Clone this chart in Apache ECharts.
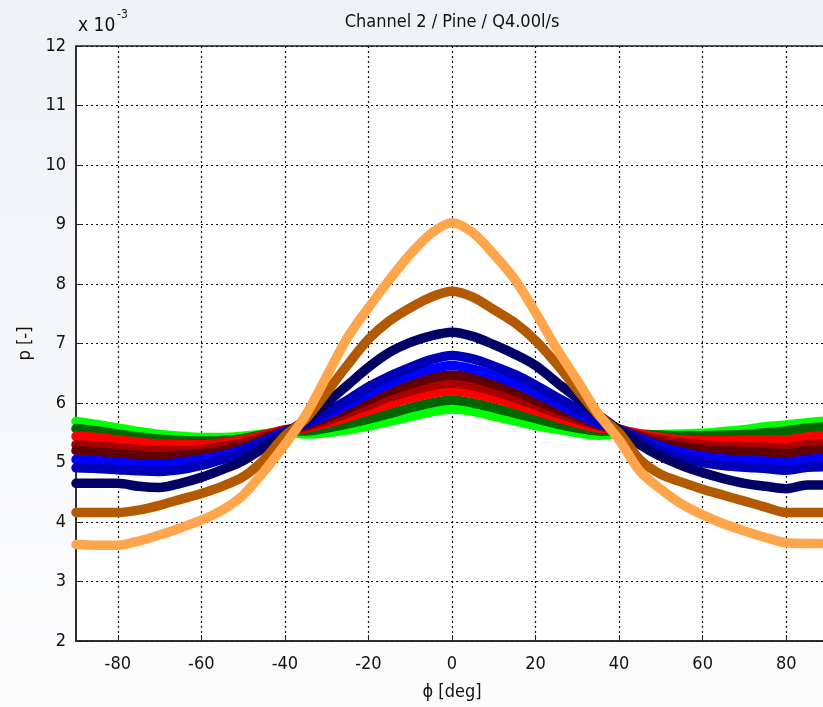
<!DOCTYPE html>
<html>
<head>
<meta charset="utf-8">
<script src="https://cdn.jsdelivr.net/npm/echarts@6/dist/echarts.min.js"></script>
<style>html,body{margin:0;padding:0;background:#fff}#c{width:823px;height:707px}</style>
</head>
<body>
<div id="c"></div>
<script>
// phi [deg]
const phi = [-90,-85,-80,-75,-70,-65,-60,-55,-50,-45,-40,-35,-30,-25,-20,-15,-10,-5,0,5,10,15,20,25,30,35,40,45,50,55,60,65,70,75,80,85,90];
// p values in units of 1e-3
const pLightGreen = [5.69,5.64,5.58,5.52,5.47,5.44,5.42,5.42,5.44,5.48,5.51,5.48,5.50,5.55,5.61,5.69,5.77,5.85,5.90,5.86,5.78,5.70,5.62,5.56,5.50,5.46,5.48,5.46,5.47,5.48,5.49,5.52,5.55,5.60,5.63,5.67,5.70];
const pDarkGreen  = [5.57,5.53,5.48,5.43,5.39,5.37,5.36,5.37,5.40,5.47,5.53,5.53,5.58,5.65,5.73,5.82,5.92,6.00,6.05,6.00,5.92,5.83,5.74,5.65,5.58,5.53,5.52,5.48,5.46,5.45,5.45,5.46,5.47,5.50,5.53,5.58,5.60];
const pRed        = [5.44,5.42,5.38,5.34,5.31,5.30,5.30,5.33,5.38,5.46,5.55,5.58,5.66,5.76,5.87,5.98,6.08,6.16,6.20,6.16,6.08,5.98,5.87,5.76,5.66,5.58,5.55,5.48,5.42,5.38,5.37,5.37,5.38,5.38,5.38,5.43,5.46];
const pDarkRed    = [5.30,5.28,5.25,5.22,5.20,5.20,5.22,5.27,5.33,5.43,5.54,5.60,5.70,5.83,5.96,6.10,6.20,6.29,6.33,6.29,6.20,6.09,5.96,5.83,5.72,5.62,5.56,5.45,5.38,5.33,5.30,5.28,5.27,5.26,5.25,5.30,5.32];
const pMaroon     = [5.20,5.18,5.15,5.12,5.10,5.12,5.15,5.20,5.28,5.40,5.53,5.63,5.75,5.90,6.05,6.20,6.32,6.42,6.47,6.42,6.32,6.20,6.05,5.90,5.77,5.64,5.56,5.43,5.33,5.27,5.22,5.20,5.18,5.17,5.15,5.20,5.22];
const pBlue       = [5.05,5.03,5.00,4.98,4.97,5.00,5.05,5.12,5.22,5.36,5.52,5.65,5.80,5.97,6.15,6.32,6.46,6.57,6.63,6.57,6.46,6.33,6.17,6.00,5.82,5.66,5.55,5.40,5.27,5.17,5.10,5.06,5.04,5.02,5.00,5.05,5.07];
const pMidBlue    = [4.91,4.90,4.88,4.86,4.85,4.88,4.95,5.05,5.17,5.33,5.50,5.66,5.85,6.05,6.27,6.45,6.60,6.73,6.80,6.74,6.62,6.48,6.30,6.10,5.90,5.70,5.55,5.37,5.20,5.08,5.00,4.95,4.92,4.90,4.87,4.92,4.93];
const pNavy       = [4.65,4.65,4.65,4.60,4.58,4.65,4.75,4.88,5.03,5.25,5.48,5.72,6.00,6.30,6.60,6.85,7.02,7.13,7.19,7.12,6.98,6.82,6.63,6.35,6.08,5.80,5.55,5.30,5.10,4.95,4.83,4.73,4.65,4.60,4.56,4.62,4.62];
const pBrown      = [4.16,4.16,4.16,4.20,4.28,4.38,4.48,4.60,4.76,5.05,5.45,5.73,6.18,6.64,7.07,7.38,7.60,7.78,7.88,7.78,7.57,7.35,7.05,6.66,6.22,5.80,5.50,5.05,4.80,4.67,4.55,4.45,4.35,4.25,4.16,4.16,4.16];
const pOrange     = [3.62,3.61,3.61,3.68,3.78,3.90,4.03,4.20,4.45,4.85,5.30,5.80,6.45,7.10,7.60,8.07,8.50,8.85,9.03,8.86,8.50,8.08,7.52,6.92,6.38,5.82,5.38,4.85,4.55,4.30,4.12,3.97,3.85,3.74,3.65,3.64,3.64];

const xTicks = [-80,-60,-40,-20,0,20,40,60,80];
const yTicks = [2,3,4,5,6,7,8,9,10,11,12];

const seriesDefs = [
  ['light green', pLightGreen, '#00ff00'],
  ['dark green', pDarkGreen, '#006600'],
  ['red', pRed, '#ff0000'],
  ['dark red', pDarkRed, '#a80000'],
  ['maroon', pMaroon, '#600000'],
  ['blue', pBlue, '#0000ff'],
  ['mid blue', pMidBlue, '#0000b8'],
  ['navy', pNavy, '#000066'],
  ['brown', pBrown, '#b35900'],
  ['orange', pOrange, '#ffa64d']
];

const FONT = '"Liberation Sans Narrow", "DejaVu Sans Condensed", "Liberation Sans", sans-serif';
const chart = echarts.init(document.getElementById('c'), null, {renderer: 'canvas'});
chart.setOption({
  animation: false,
  backgroundColor: {type: 'linear', x: 0, y: 0, x2: 0, y2: 1, colorStops: [{offset: 0, color: '#eef1f5'}, {offset: 1, color: '#fcfcfd'}]},
  title: {
    text: 'Channel 2 / Pine / Q4.00l/s', left: 447, top: 8, textAlign: 'center',
    textStyle: {fontFamily: FONT, fontSize: 18, fontWeight: 'normal', color: '#111'}
  },
  graphic: [
    {type: 'text', left: 78, top: 17, style: {text: 'x 10', font: '19px ' + FONT, fill: '#111'}},
    {type: 'text', left: 117, top: 9, style: {text: '-3', font: '12px ' + FONT, fill: '#111'}}
  ],
  grid: {left: 76, top: 46, width: 752, bottom: 66, outerBoundsMode: 'none', containLabel: false,
         show: true, backgroundColor: '#ffffff', borderColor: '#222', borderWidth: 1.5},
  xAxis: {
    type: 'value', min: -90, max: 90,
    name: 'ϕ [deg]', nameLocation: 'middle', nameGap: 42,
    nameTextStyle: {fontFamily: FONT, fontSize: 18, color: '#111'},
    axisLine: {show: true, onZero: false, lineStyle: {color: '#222', width: 1.5}},
    axisTick: {show: true, inside: true, length: 6, customValues: xTicks, lineStyle: {color: '#222'}},
    axisLabel: {customValues: xTicks, fontFamily: FONT, fontSize: 18, color: '#111', margin: 14},
    splitLine: {show: true, lineStyle: {color: '#111', type: [2, 3], width: 1.2}}
  },
  yAxis: {
    type: 'value', min: 2, max: 12, interval: 1,
    name: 'p [-]', nameLocation: 'middle', nameGap: 36, nameRotate: 90,
    nameTextStyle: {fontFamily: FONT, fontSize: 18, color: '#111'},
    axisLine: {show: true, onZero: false, lineStyle: {color: '#222', width: 1.5}},
    axisTick: {show: true, inside: true, length: 6, lineStyle: {color: '#222'}},
    axisLabel: {fontFamily: FONT, fontSize: 18, color: '#111', margin: 10},
    splitLine: {show: true, lineStyle: {color: '#111', type: [2, 3], width: 1.2}}
  },
  series: seriesDefs.map(([name, vals, color]) => ({
    name: name, type: 'line', smooth: 0.3,
    data: phi.map((x, i) => [x, vals[i]]),
    symbol: 'none', showSymbol: false,
    lineStyle: {color: color, width: 9.5, cap: 'round', join: 'round'},
    clip: true
  }))
});
</script>
</body>
</html>
